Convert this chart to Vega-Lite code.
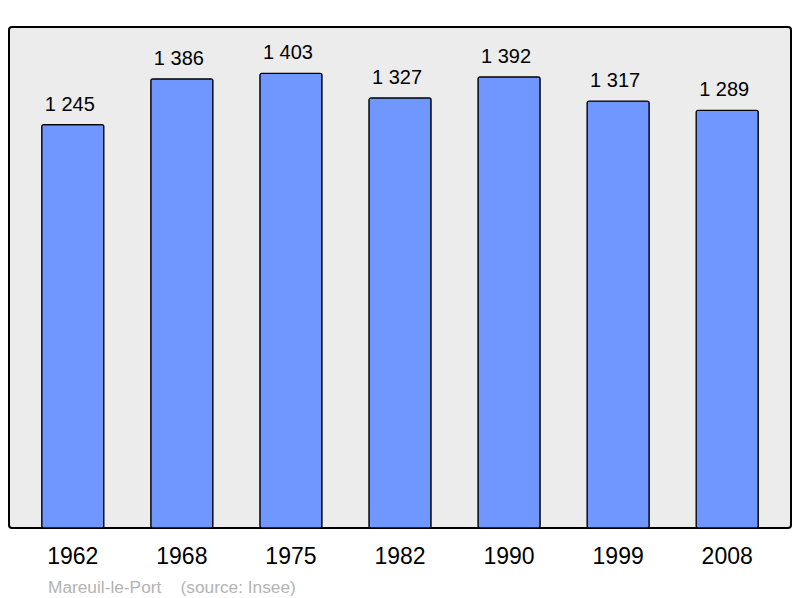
{
  "$schema": "https://vega.github.io/schema/vega-lite/v6.json",
  "autosize": "none",
  "width": 782,
  "height": 501,
  "padding": {"left": 9, "top": 27, "right": 9, "bottom": 70},
  "background": "white",
  "config": {
    "view": {"fill": "#ececec", "stroke": "black", "strokeWidth": 2, "cornerRadius": 3},
    "font": "Liberation Sans"
  },
  "title": {
    "text": "Mareuil-le-Port\u00a0\u00a0\u00a0\u00a0(source: Insee)",
    "orient": "bottom",
    "anchor": "start",
    "dx": 39,
    "offset": 11,
    "fontSize": 17.3,
    "fontWeight": "normal",
    "color": "#b3b3b3",
    "font": "Liberation Sans"
  },
  "data": {
    "values": [
      {"year": "1962", "pop": 1245, "label": "1 245"},
      {"year": "1968", "pop": 1386, "label": "1 386"},
      {"year": "1975", "pop": 1403, "label": "1 403"},
      {"year": "1982", "pop": 1327, "label": "1 327"},
      {"year": "1990", "pop": 1392, "label": "1 392"},
      {"year": "1999", "pop": 1317, "label": "1 317"},
      {"year": "2008", "pop": 1289, "label": "1 289"}
    ]
  },
  "encoding": {
    "x": {
      "field": "year",
      "type": "nominal",
      "sort": null,
      "scale": {"paddingInner": 0.43, "paddingOuter": 0.3},
      "axis": {
        "title": null,
        "labelAngle": 0,
        "domain": false,
        "ticks": false,
        "labelFontSize": 23,
        "labelColor": "black",
        "labelPadding": 17,
        "labelFont": "Liberation Sans"
      }
    },
    "y": {
      "field": "pop",
      "type": "quantitative",
      "scale": {"domain": [0, 1546], "nice": false},
      "axis": null
    }
  },
  "layer": [
    {
      "mark": {"type": "bar", "fill": "#7097ff", "stroke": "black", "strokeWidth": 1.2, "cornerRadius": 2}
    },
    {
      "mark": {"type": "text", "baseline": "bottom", "dy": -10, "dx": -3, "fontSize": 20, "color": "black"},
      "encoding": {"text": {"field": "label"}}
    }
  ]
}
